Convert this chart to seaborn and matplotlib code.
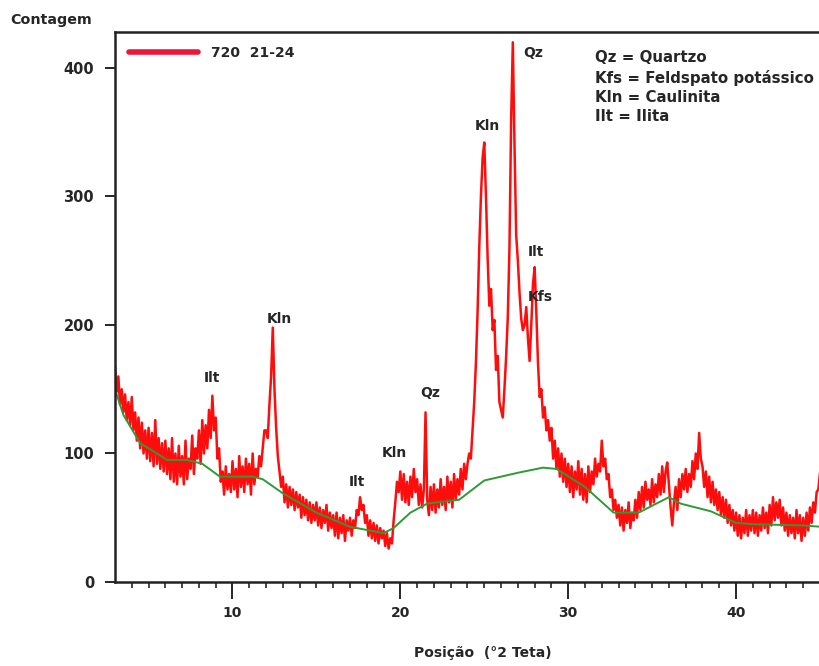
import numpy as np
import pandas as pd
import matplotlib
matplotlib.use("Agg")
import matplotlib.pyplot as plt
import seaborn as sns

# contagens, passo de 0.1 grau (uma linha por grau, de 3 a 44.9)
contagem_rows = [
    [168, 148, 160, 138, 150, 132, 146, 126, 140, 122],  # 3
    [144, 118, 132, 110, 128, 104, 124, 100, 118, 96],   # 4
    [120, 94, 116, 90, 126, 92, 112, 88, 108, 86],       # 5
    [110, 84, 104, 80, 112, 78, 100, 76, 106, 82],       # 6
    [98, 76, 110, 80, 96, 88, 114, 84, 104, 96],         # 7
    [118, 92, 126, 100, 122, 104, 134, 112, 145, 118],   # 8
    [128, 96, 104, 78, 86, 68, 90, 72, 84, 70],          # 9
    [94, 72, 88, 66, 98, 74, 90, 70, 96, 76],            # 10
    [92, 68, 100, 76, 88, 82, 98, 90, 104, 118],         # 11
    [118, 112, 138, 160, 198, 150, 120, 98, 86, 74],     # 12
    [82, 62, 76, 58, 74, 60, 72, 56, 70, 58],            # 13
    [68, 50, 66, 52, 64, 48, 62, 46, 60, 48],            # 14
    [62, 44, 58, 42, 56, 46, 60, 40, 54, 42],            # 15
    [52, 36, 54, 34, 50, 38, 52, 32, 48, 40],            # 16
    [50, 36, 48, 42, 56, 52, 66, 56, 60, 46],            # 17
    [52, 36, 48, 34, 46, 32, 44, 30, 42, 34],            # 18
    [40, 28, 38, 26, 34, 30, 48, 62, 78, 70],            # 19
    [86, 64, 84, 62, 78, 60, 82, 66, 88, 70],            # 20
    [80, 60, 76, 58, 72, 132, 64, 52, 74, 56],           # 21
    [76, 54, 72, 58, 80, 60, 74, 56, 82, 62],            # 22
    [78, 58, 84, 64, 80, 68, 88, 72, 92, 80],            # 23
    [92, 100, 96, 118, 140, 170, 210, 260, 300, 330],    # 24
    [342, 300, 252, 215, 228, 196, 204, 165, 176, 140],  # 25
    [134, 128, 150, 175, 206, 260, 360, 420, 340, 270],  # 26
    [250, 225, 205, 196, 200, 214, 190, 172, 200, 232],  # 27
    [245, 210, 170, 144, 150, 128, 136, 118, 126, 110],  # 28
    [120, 96, 110, 88, 104, 82, 100, 78, 96, 74],        # 29
    [92, 70, 90, 66, 86, 72, 94, 68, 88, 64],            # 30
    [84, 62, 90, 70, 86, 76, 96, 82, 92, 86],            # 31
    [110, 90, 96, 80, 84, 66, 72, 56, 64, 50],           # 32
    [60, 44, 58, 40, 56, 46, 62, 42, 54, 48],            # 33
    [64, 50, 70, 56, 74, 58, 78, 64, 72, 60],            # 34
    [80, 62, 76, 66, 84, 68, 90, 70, 86, 93],            # 35
    [76, 58, 44, 62, 74, 56, 80, 66, 84, 72],            # 36
    [88, 70, 84, 74, 94, 80, 100, 88, 116, 96],          # 37
    [90, 74, 86, 66, 82, 62, 78, 60, 72, 56],            # 38
    [70, 52, 66, 50, 64, 46, 60, 44, 56, 40],            # 39
    [54, 36, 52, 34, 50, 38, 56, 36, 52, 40],            # 40
    [56, 38, 54, 36, 52, 40, 58, 42, 54, 38],            # 41
    [60, 44, 66, 48, 62, 50, 64, 44, 58, 40],            # 42
    [54, 36, 52, 38, 50, 34, 56, 38, 52, 32],            # 43
    [50, 36, 54, 40, 58, 46, 62, 54, 70, 72],            # 44
]
contagem_last = [85]  # 45.0

# linha de fundo (verde)
fundo_x = [3, 3.5, 4.5, 5.5, 6.1, 7.3, 8.2, 9.25, 10, 11.2, 11.8, 13, 15, 17, 19,
           19.6, 20.6, 21.6, 23.5, 25, 27, 28.5, 29.3, 31, 32.7, 34.2, 36, 36.7,
           38.5, 40, 41, 44, 45]
fundo_y = [150, 130, 108, 100, 95, 95, 92, 82, 82, 82, 80, 69, 54, 43, 38,
           42, 54, 61, 64, 79, 85, 89, 88, 74, 54, 54, 66, 61,
           55, 46, 45, 44, 43]

# rótulos dos picos
pico_txt = ["Qz", "Kln", "Ilt", "Kfs", "Kln", "Ilt", "Qz", "Kln", "Ilt"]
pico_x = [27.9, 25.2, 28.06, 28.36, 12.82, 8.77, 21.75, 19.67, 17.4]
pico_y = [412, 355, 257, 222, 205, 159, 147, 100, 78]

legenda_min = ["Qz = Quartzo", "Kfs = Feldspato potássico", "Kln = Caulinita", "Ilt = Ilita"]

contagem = [v for row in contagem_rows for v in row] + contagem_last
teta = np.round(3.0 + 0.1 * np.arange(len(contagem)), 2)
df = pd.DataFrame({"teta": teta, "contagem": contagem})
df_fundo = pd.DataFrame({"teta": fundo_x, "contagem": fundo_y})

sns.set_style("ticks")
plt.rcParams['font.family'] = ['DejaVu Sans']
cor_txt = "#262626"

fig = plt.figure(figsize=(8.2, 6.66), dpi=100)
ax = fig.add_axes([115 / 820, 84 / 666, 705 / 820, 550 / 666])

sns.lineplot(data=df, x="teta", y="contagem", ax=ax, color="#ff0d0d", lw=1.8,
             label="720  21-24")
sns.lineplot(data=df_fundo, x="teta", y="contagem", ax=ax, color="#2e9a35", lw=1.4)

ax.set_xlim(3, 45)
ax.set_ylim(0, 428)
ax.set_xticks([10, 20, 30, 40])
ax.set_xticks(np.arange(4, 46, 1), minor=True)
ax.set_yticks([0, 100, 200, 300, 400])
ax.tick_params(axis="x", which="major", length=12, width=1.4, direction="out",
               labelsize=10, pad=5, colors=cor_txt)
ax.tick_params(axis="x", which="minor", length=4.5, width=1.2, direction="out", colors=cor_txt)
ax.tick_params(axis="y", which="major", length=7, width=1.4, direction="out",
               labelsize=10.5, pad=8, colors=cor_txt)
for lab in ax.get_xticklabels() + ax.get_yticklabels():
    lab.set_fontweight("bold")

for s in ["left", "bottom", "top"]:
    ax.spines[s].set_linewidth(1.8)
    ax.spines[s].set_color("#222222")
ax.spines["right"].set_visible(False)

ax.set_xlabel("Posição  (°2 Teta)", fontsize=10, fontweight="bold", color=cor_txt)
ax.xaxis.set_label_coords((483 - 115) / 705, -(646 - 582) / 550)
ax.set_ylabel("")
fig.text(10 / 820, 1 - 20 / 666, "Contagem", fontsize=10.3, fontweight="bold",
         color=cor_txt, va="center", ha="left")

leg = ax.legend(loc="upper left", bbox_to_anchor=(0.0, 1.0), frameon=False,
                handlelength=5.0, handletextpad=0.9, borderaxespad=0.6,
                prop={"weight": "bold", "size": 10})
for h in leg.get_lines():
    h.set_linewidth(4)
    h.set_color("#ee1638")
for t in leg.get_texts():
    t.set_color(cor_txt)

for t, x, y in zip(pico_txt, pico_x, pico_y):
    ax.text(x, y, t, fontsize=10, fontweight="bold", color=cor_txt, ha="center", va="center")

for i, t in enumerate(legenda_min):
    fig.text(595 / 820, 1 - (58 + 19.5 * i) / 666, t, fontsize=10.8, fontweight="bold",
             color=cor_txt, ha="left", va="center")

fig.savefig("out.png", dpi=100)
